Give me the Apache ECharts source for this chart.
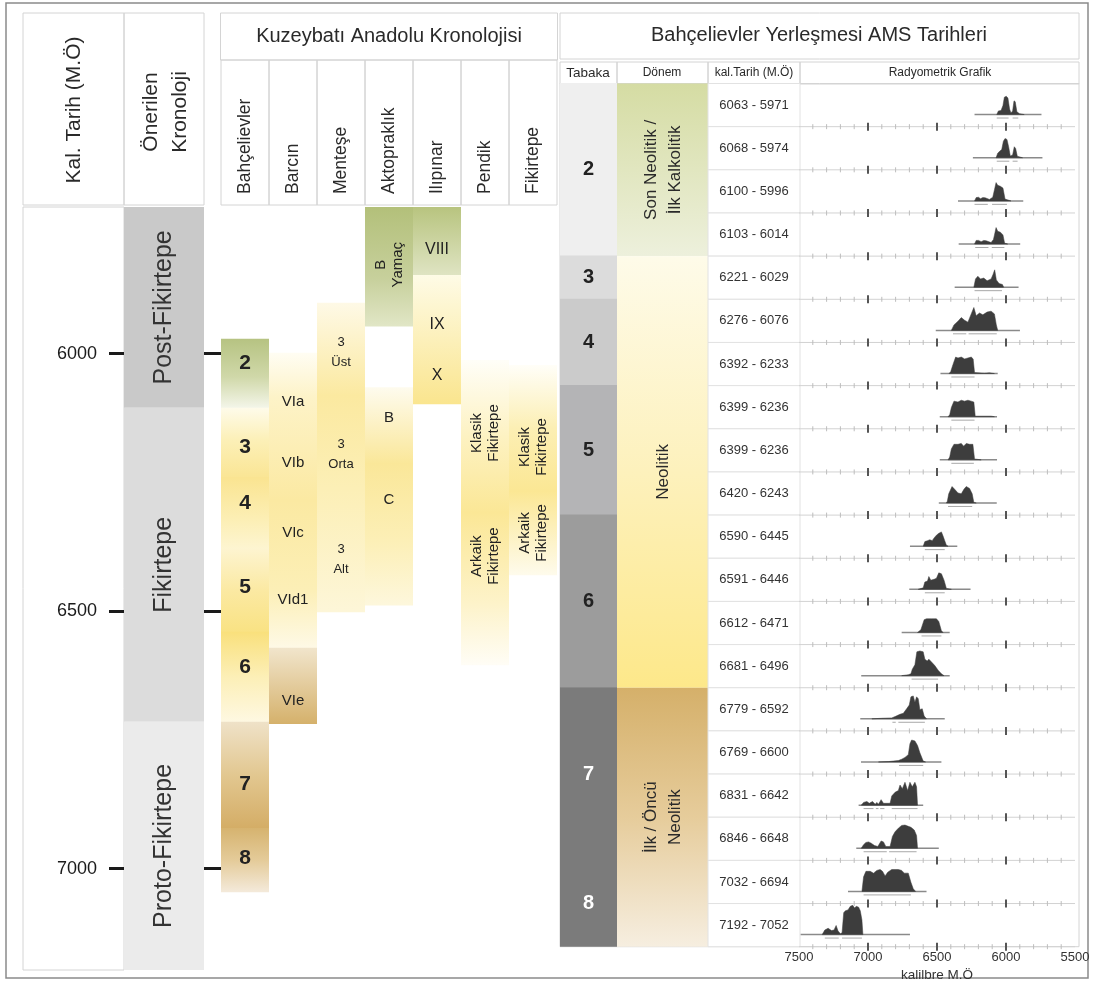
<!DOCTYPE html>
<html><head><meta charset="utf-8">
<script src="https://cdn.jsdelivr.net/npm/echarts@6/dist/echarts.min.js"></script>
<style>html,body{margin:0;padding:0;background:#fff}#c{width:1093px;height:981px}</style>
</head><body><div id="c"></div>
<script>
// ================= DATA =================
const yearTicks = [6000, 6500, 7000];

const proposedPhases = ['Post-Fikirtepe', 'Fikirtepe', 'Proto-Fikirtepe'];
const proposedStart = [5715, 6105, 6715];
const proposedEnd = [6105, 6715, 7197];

const siteNames = ['Bahçelievler', 'Barcın', 'Menteşe', 'Aktopraklık', 'Ilıpınar', 'Pendik', 'Fikirtepe'];
const siteBlockSite  = [0, 0, 0, 0, 0, 0, 0, 1, 1, 2, 3, 3, 4, 4, 5, 6];
const siteBlockStart = [5971, 6105, 6240, 6380, 6540, 6715, 6921, 5998, 6571, 5901, 5715, 6065, 5715, 5847, 6012, 6022];
const siteBlockEnd   = [6105, 6240, 6380, 6540, 6715, 6921, 7045, 6571, 6718, 6501, 5946, 6488, 5847, 6097, 6604, 6429];
const siteBlockTone  = ['g2', 'y3', 'y4', 'y5', 'y6', 'b7', 'b8', 'yBar', 'bBar', 'yMen', 'gAkt', 'yAkt', 'gIli', 'yIli', 'yPen', 'yFik'];

const siteLabelSite = [0, 0, 0, 0, 0, 0, 0, 1, 1, 1, 1, 1, 2, 2, 2, 3, 3, 3, 4, 4, 4, 5, 5, 6, 6];
const siteLabelYear = [6018, 6181, 6290, 6453, 6608, 6837, 6979, 6094, 6212, 6348, 6478, 6674, 5998, 6196, 6400, 5827, 6125, 6284, 5798, 5944, 6043, 6154, 6393, 6181, 6348];
const siteLabelText = ['2', '3', '4', '5', '6', '7', '8', 'VIa', 'VIb', 'VIc', 'VId1', 'VIe', '3\nÜst', '3\nOrta', '3\nAlt', 'B\nYamaç', 'B', 'C', 'VIII', 'IX', 'X', 'Klasik\nFikirtepe', 'Arkaik\nFikirtepe', 'Klasik\nFikirtepe', 'Arkaik\nFikirtepe'];

const tabakaNames = ['2', '3', '4', '5', '6', '7', '8'];
const tabakaStartRow = [0, 4, 5, 7, 10, 14, 18];
const tabakaEndRow = [4, 5, 7, 10, 14, 18, 20];

const donemNames = ['Son Neolitik /\nİlk Kalkolitik', 'Neolitik', 'İlk / Öncü\nNeolitik'];
const donemStartRow = [0, 4, 14];
const donemEndRow = [4, 14, 20];

const amsLabels = ['6063 - 5971', '6068 - 5974', '6100 - 5996', '6103 - 6014', '6221 - 6029', '6276 - 6076', '6392 - 6233', '6399 - 6236', '6399 - 6236', '6420 - 6243', '6590 - 6445', '6591 - 6446', '6612 - 6471', '6681 - 6496', '6779 - 6592', '6769 - 6600', '6831 - 6642', '6846 - 6648', '7032 - 6694', '7192 - 7052'];

const amsExtent = [[6228, 5743], [6240, 5736], [6348, 5875], [6343, 5897], [6372, 5909], [6509, 5899], [6475, 6060], [6480, 6065], [6480, 6065], [6487, 6067], [6696, 6353], [6701, 6257], [6756, 6408], [7049, 6408], [7056, 6444], [7051, 6468], [7068, 6600], [7085, 6487], [7145, 6576], [7488, 6696]];

const amsDensity = [
  [[6067,0],[6055,0.2],[6036,0.22],[6022,0.5],[6012,0.95],[5998,1.0],[5986,0.9],[5974,0.3],[5964,0.08],[5952,0.2],[5942,0.75],[5933,0.7],[5921,0.15],[5902,0.05],[5868,0]],
  [[6072,0],[6060,0.25],[6046,0.35],[6031,0.45],[6019,0.9],[6007,1.05],[5993,1.0],[5981,0.6],[5969,0.1],[5952,0.15],[5940,0.6],[5930,0.5],[5918,0.08],[5880,0]],
  [[6228,0],[6216,0.18],[6199,0.2],[6185,0.12],[6168,0.18],[6151,0.17],[6120,0.08],[6096,0.2],[6084,0.6],[6072,1.0],[6060,0.85],[6041,0.8],[6022,0.7],[6007,0.1],[5964,0]],
  [[6228,0],[6216,0.2],[6199,0.2],[6180,0.13],[6161,0.2],[6144,0.18],[6108,0.08],[6091,0.25],[6082,0.55],[6072,0.9],[6060,0.7],[6041,0.65],[6022,0.5],[6010,0.05],[5988,0]],
  [[6233,0],[6221,0.45],[6204,0.6],[6185,0.45],[6161,0.5],[6137,0.35],[6108,0.45],[6094,0.7],[6082,0.95],[6070,0.4],[6050,0.2],[6026,0.15],[6017,0]],
  [[6396,0],[6377,0.3],[6348,0.5],[6324,0.7],[6300,0.55],[6276,0.45],[6252,0.9],[6233,1.25],[6216,0.8],[6192,0.95],[6168,0.85],[6137,1.0],[6108,1.05],[6084,0.9],[6070,0.3],[6060,0]],
  [[6413,0],[6401,0.1],[6384,0.5],[6365,0.9],[6348,0.85],[6324,0.9],[6300,0.8],[6276,0.85],[6252,0.9],[6238,0.8],[6228,0.05],[6156,0.02],[6120,0.04],[6084,0]],
  [[6420,0],[6408,0.1],[6396,0.5],[6377,0.85],[6348,0.8],[6324,0.9],[6300,0.85],[6276,0.9],[6252,0.85],[6233,0.8],[6223,0.03],[6108,0.03],[6084,0]],
  [[6420,0],[6408,0.15],[6396,0.6],[6377,0.85],[6348,0.85],[6324,0.9],[6307,0.75],[6288,0.9],[6264,0.85],[6240,0.85],[6228,0.05],[6180,0]],
  [[6432,0],[6425,0.1],[6415,0.5],[6391,0.9],[6372,0.75],[6348,0.55],[6324,0.5],[6305,0.75],[6288,0.9],[6264,0.8],[6245,0.5],[6233,0.03],[6216,0]],
  [[6600,0],[6588,0.25],[6569,0.3],[6552,0.35],[6535,0.3],[6521,0.45],[6504,0.6],[6487,0.7],[6468,0.78],[6456,0.55],[6444,0.3],[6432,0.05],[6420,0]],
  [[6636,0],[6600,0.08],[6588,0.4],[6569,0.45],[6559,0.7],[6545,0.5],[6521,0.55],[6504,0.6],[6487,0.9],[6468,0.85],[6449,0.5],[6432,0.05],[6396,0]],
  [[6641,0],[6617,0.15],[6593,0.7],[6576,0.75],[6540,0.75],[6504,0.75],[6487,0.6],[6468,0.1],[6456,0]],
  [[6756,0],[6708,0.05],[6689,0.1],[6679,0.35],[6660,0.6],[6646,1.3],[6624,1.35],[6600,1.3],[6588,0.9],[6571,0.8],[6559,0.9],[6540,0.75],[6516,0.55],[6492,0.3],[6468,0.1],[6449,0]],
  [[6972,0],[6900,0.03],[6828,0.05],[6804,0.12],[6768,0.25],[6744,0.3],[6720,0.55],[6701,0.75],[6689,1.2],[6672,1.25],[6660,0.9],[6648,1.2],[6636,1.1],[6624,0.5],[6607,0.55],[6593,0.15],[6576,0]],
  [[6924,0],[6852,0.02],[6780,0.08],[6756,0.15],[6732,0.25],[6708,0.4],[6696,1.0],[6684,1.2],[6660,1.15],[6641,0.9],[6624,0.5],[6600,0.05],[6583,0]],
  [[7049,0],[7032,0.15],[7008,0.2],[6991,0.1],[6967,0.2],[6948,0.05],[6936,0.15],[6924,0.05],[6905,0.3],[6888,0.1],[6840,0.1],[6828,0.5],[6804,0.7],[6780,0.8],[6768,1.1],[6751,0.9],[6732,1.25],[6713,0.8],[6696,1.25],[6679,1.0],[6660,1.25],[6648,1.0],[6641,0]],
  [[7049,0],[7032,0.2],[7015,0.32],[6996,0.35],[6977,0.28],[6953,0.15],[6929,0.1],[6905,0.4],[6888,0.35],[6871,0.1],[6840,0.1],[6823,0.65],[6804,0.9],[6780,1.1],[6756,1.25],[6732,1.27],[6708,1.2],[6689,1.15],[6665,1.0],[6648,0.7],[6641,0]],
  [[7044,0],[7032,0.8],[7015,1.1],[6984,1.1],[6960,1.0],[6936,1.15],[6912,1.2],[6895,1.1],[6876,0.85],[6857,1.05],[6828,1.2],[6804,1.2],[6780,1.2],[6756,1.15],[6737,1.0],[6708,1.0],[6689,0.5],[6672,0.15],[6655,0]],
  [[7332,0],[7313,0.25],[7289,0.35],[7265,0.22],[7246,0.25],[7231,0.5],[7217,0.2],[7200,0.05],[7188,0.1],[7176,1.2],[7164,1.3],[7145,1.35],[7128,1.55],[7111,1.6],[7097,1.45],[7085,1.55],[7068,1.5],[7056,1.3],[7044,0.8],[7037,0]]
];

const amsBars = [
  [[6067,5981],[5952,5911]], [[6067,5976],[5952,5916]], [[6228,6132],[6101,5993]], [[6223,6127],[6103,6012]],
  [[6228,6029]], [[6384,6288],[6271,6067]], [[6396,6228]], [[6396,6228]], [[6396,6233]], [[6420,6245]],
  [[6588,6444]], [[6588,6444]], [[6612,6468]], [[6684,6492]], [[6823,6799],[6780,6588]], [[6775,6600]],
  [[7032,6960],[6943,6924],[6912,6881],[6828,6641]], [[7032,6864],[6847,6648]], [[7032,6689]], [[7313,7212],[7188,7044]]
];

const minorTickYears = [7400, 7300, 7200, 7100, 6900, 6800, 6700, 6600, 6400, 6300, 6200, 6100, 5900, 5800, 5700, 5600];
const majorTickYears = [7000, 6500, 6000];

// ================= STYLE =================
const FONT = "'Liberation Sans', Arial, sans-serif";
const NARROW = "'Liberation Sans Narrow', 'Liberation Sans', Arial, sans-serif";
const G = echarts.graphic;
const tones = {
  g2:   [[0,'#b6c382'],[0.55,'#d0d8a9'],[1,'#f4f6ea']],
  y3:   [[0,'#fefbea'],[0.45,'#fcf0b8'],[1,'#fae594']],
  y4:   [[0,'#fae491'],[0.6,'#fcefb6'],[1,'#fdf5d2']],
  y5:   [[0,'#fdf4cf'],[0.5,'#fbe9a2'],[1,'#f9e283']],
  y6:   [[0,'#f9e07c'],[0.5,'#fcefb7'],[1,'#fef8e2']],
  b7:   [[0,'#efe2c8'],[0.5,'#e2c790'],[1,'#d4ad66']],
  b8:   [[0,'#d6b36f'],[0.5,'#e4cb99'],[1,'#f4eadb']],
  yBar: [[0,'#fffdf3'],[0.15,'#fdf3c8'],[0.5,'#fbe9a2'],[0.8,'#fcefb6'],[1,'#fef9e6']],
  bBar: [[0,'#f1e5cc'],[1,'#d5b16b']],
  yMen: [[0,'#fef9e6'],[0.3,'#fbe9a0'],[0.6,'#fcefb6'],[1,'#fdf6d8']],
  gAkt: [[0,'#b3c07a'],[0.6,'#c7d09c'],[1,'#e1e6c6']],
  yAkt: [[0,'#fefbee'],[0.35,'#fae799'],[0.7,'#fcefb6'],[1,'#fdf7dc']],
  gIli: [[0,'#b8c47f'],[1,'#dfe4c3']],
  yIli: [[0,'#fefbe6'],[1,'#fae58e']],
  yPen: [[0,'#fffef8'],[0.25,'#fdf2c2'],[0.5,'#fbe796'],[0.8,'#fdf3ca'],[1,'#fffdf6']],
  yFik: [[0,'#fffef8'],[0.3,'#fcefb4'],[0.6,'#fbe794'],[1,'#fefbec']],
  dG:   [[0,'#d5dca3'],[1,'#edf0dc']],
  dY:   [[0,'#fefbe9'],[0.5,'#fdf1bc'],[1,'#fde88a']],
  dB:   [[0,'#d5b06a'],[0.5,'#e6cc9b'],[1,'#f6eee0']]
};
function grad(k) { return new G.LinearGradient(0, 0, 0, 1, tones[k].map(s => ({offset: s[0], color: s[1]}))); }
const proposedColors = ['#c9c9c9', '#dcdcdc', '#ebebeb'];
const tabakaColors = ['#efefef', '#dcdcdc', '#cbcbcb', '#b4b4b6', '#9c9c9c', '#7b7b7b', '#7b7b7b'];
const donemTones = ['dG', 'dY', 'dB'];
const BASE = 0.72, AMP = 0.424, BARY = 0.8;

function labelStyle(site, text) {
  if (site === 0) return {font: 'bold 21px ' + NARROW, rot: false, lh: 22};
  if (site === 2) return {font: '13px ' + NARROW, rot: false, lh: 20};
  if (site === 4) return {font: '16px ' + FONT, rot: false, lh: 18};
  return {font: '15px ' + FONT, rot: text.indexOf('\n') >= 0, lh: 17};
}

// ================= CHART =================
const chart = echarts.init(document.getElementById('c'));
const hidX = (gi) => ({gridIndex: gi, type: 'value', min: 0, max: 1, show: false});
const hidRowY = (gi) => ({gridIndex: gi, type: 'value', min: 0, max: 20, inverse: true, show: false});

const headerRects = [
  [23, 13, 101, 192], [23, 207, 101, 763], [124, 13, 80, 192], [220.5, 13, 337, 47],
  [560, 13, 519, 46], [560, 62, 57, 22], [617, 62, 91, 22], [708, 62, 92, 22], [800, 62, 279, 22], [560, 83.5, 519, 863.2]
];
const graphics = [];
graphics.push({type: 'rect', shape: {x: 6, y: 3, width: 1082, height: 975}, style: {fill: 'none', stroke: '#8a8a8a', lineWidth: 1.5}, silent: true});
headerRects.forEach(r => graphics.push({type: 'rect', shape: {x: r[0], y: r[1], width: r[2], height: r[3]}, style: {fill: 'none', stroke: '#d4d4d4', lineWidth: 1}, silent: true}));
const txt = (t, x, y, font, rot, lh, align) => ({type: 'text', x: x, y: y, rotation: rot ? Math.PI / 2 : 0, silent: true,
  style: {text: t, font: font, fill: '#2a2a2a', align: align || 'center', verticalAlign: 'middle', lineHeight: lh || 20}});
siteNames.forEach((n, i) => {
  graphics.push({type: 'rect', shape: {x: 221 + 48 * i, y: 60, width: 48, height: 145}, style: {fill: 'none', stroke: '#d4d4d4', lineWidth: 1}, silent: true});
  graphics.push(txt(n, 221 + 48 * i + 24, 194, '17.5px ' + FONT, true, 18, 'left'));
});
graphics.push(txt('Kal. Tarih (M.Ö)', 74, 110, '21px ' + FONT, true));
graphics.push(txt('Önerilen\nKronoloji', 166, 112, '21px ' + FONT, true, 29));
graphics.push(txt('Kuzeybatı Anadolu Kronolojisi', 389, 36, '20px ' + FONT, false));
graphics.push(txt('Bahçelievler Yerleşmesi AMS Tarihleri', 819, 35, '20px ' + FONT, false));
graphics.push(txt('Tabaka', 588, 73, '13.5px ' + FONT, false));
graphics.push(txt('Dönem', 662, 73, '12px ' + FONT, false));
graphics.push(txt('kal.Tarih (M.Ö)', 754, 73, '12px ' + NARROW, false));
graphics.push(txt('Radyometrik Grafik', 940, 73, '12px ' + FONT, false));

const plain = v => String(v);
const gridBox = (l, t, w, h) => ({left: l, top: t, width: w, height: h, outerBoundsMode: 'none', containLabel: false});

const option = {
  animation: false,
  backgroundColor: '#fff',
  grid: [
    gridBox(124, 207, 80, 763),
    gridBox(221, 207, 336, 763),
    gridBox(560, 83.5, 57, 863.2),
    gridBox(617, 83.5, 91, 863.2),
    gridBox(708, 83.5, 92, 863.2),
    gridBox(799, 83.5, 276, 863.2)
  ],
  xAxis: [
    hidX(0),
    {gridIndex: 1, type: 'category', data: siteNames, position: 'top', axisLine: {show: false}, axisTick: {show: false}, axisLabel: {show: false}},
    hidX(2), hidX(3), hidX(4),
    {gridIndex: 5, type: 'value', min: 5500, max: 7500, interval: 500, inverse: true,
      axisLine: {show: false}, axisTick: {show: false}, splitLine: {show: false},
      axisLabel: {fontSize: 13, color: '#333', margin: 4, fontFamily: FONT, formatter: plain},
      name: 'kalilbre M.Ö', nameLocation: 'middle', nameGap: 15, nameTextStyle: {fontSize: 13.5, color: '#333', fontFamily: FONT}}
  ],
  yAxis: [
    {gridIndex: 0, type: 'value', min: 5715, max: 7197, inverse: true, axisLine: {show: false}, splitLine: {show: false},
      axisTick: {show: true, customValues: yearTicks, length: 15, lineStyle: {color: '#1a1a1a', width: 3}},
      axisLabel: {customValues: yearTicks, fontSize: 18, margin: 27, color: '#1a1a1a', fontFamily: FONT, formatter: plain}},
    {gridIndex: 1, type: 'value', min: 5715, max: 7197, inverse: true, axisLine: {show: false}, splitLine: {show: false},
      axisTick: {show: true, customValues: yearTicks, length: 18, lineStyle: {color: '#1a1a1a', width: 3}},
      axisLabel: {show: false}},
    hidRowY(2), hidRowY(3), hidRowY(4), hidRowY(5)
  ],
  graphic: graphics,
  series: [
    { // proposed chronology
      type: 'custom', xAxisIndex: 0, yAxisIndex: 0, silent: true,
      data: proposedPhases.map((_, i) => [0, proposedStart[i]]),
      renderItem: (params, api) => {
        const i = params.dataIndex;
        const a = api.coord([0, proposedStart[i]]), b = api.coord([1, proposedEnd[i]]);
        return {type: 'group', children: [
          {type: 'rect', shape: {x: a[0], y: a[1], width: b[0] - a[0], height: b[1] - a[1]}, style: {fill: proposedColors[i]}},
          {type: 'text', x: (a[0] + b[0]) / 2, y: (a[1] + b[1]) / 2, rotation: Math.PI / 2,
            style: {text: proposedPhases[i], font: '25px ' + FONT, fill: '#333', align: 'center', verticalAlign: 'middle'}}
        ]};
      }
    },
    { // site blocks
      type: 'custom', xAxisIndex: 1, yAxisIndex: 1, silent: true,
      data: siteBlockSite.map((s, i) => [s, siteBlockStart[i], siteBlockEnd[i]]),
      renderItem: (params, api) => {
        const i = params.dataIndex, s = siteBlockSite[i];
        const a = api.coord([s, siteBlockStart[i]]), b = api.coord([s, siteBlockEnd[i]]);
        const w = api.size([1, 0])[0];
        return {type: 'rect', shape: {x: a[0] - w / 2, y: a[1], width: w, height: b[1] - a[1] + 0.6}, style: {fill: grad(siteBlockTone[i])}};
      }
    },
    { // site labels
      type: 'custom', xAxisIndex: 1, yAxisIndex: 1, silent: true, z: 5,
      data: siteLabelSite.map((s, i) => [s, siteLabelYear[i]]),
      renderItem: (params, api) => {
        const i = params.dataIndex, s = siteLabelSite[i];
        const p = api.coord([s, siteLabelYear[i]]);
        const st = labelStyle(s, siteLabelText[i]);
        return {type: 'text', x: p[0], y: p[1], rotation: st.rot ? Math.PI / 2 : 0,
          style: {text: siteLabelText[i], font: st.font, fill: '#222', align: 'center', verticalAlign: 'middle', lineHeight: st.lh}};
      }
    },
    { // tabaka
      type: 'custom', xAxisIndex: 2, yAxisIndex: 2, silent: true,
      data: tabakaNames.map((_, i) => [0, tabakaStartRow[i]]),
      renderItem: (params, api) => {
        const i = params.dataIndex;
        const a = api.coord([0, tabakaStartRow[i]]), b = api.coord([1, tabakaEndRow[i]]);
        return {type: 'group', children: [
          {type: 'rect', shape: {x: a[0], y: a[1] - 0.6, width: b[0] - a[0], height: b[1] - a[1] + 0.6}, style: {fill: tabakaColors[i]}},
          {type: 'text', x: (a[0] + b[0]) / 2, y: (a[1] + b[1]) / 2, z2: 10,
            style: {text: tabakaNames[i], font: 'bold 20px ' + FONT, fill: i >= 5 ? '#fff' : '#222', align: 'center', verticalAlign: 'middle'}}
        ]};
      }
    },
    { // donem
      type: 'custom', xAxisIndex: 3, yAxisIndex: 3, silent: true,
      data: donemNames.map((_, i) => [0, donemStartRow[i]]),
      renderItem: (params, api) => {
        const i = params.dataIndex;
        const a = api.coord([0, donemStartRow[i]]), b = api.coord([1, donemEndRow[i]]);
        return {type: 'group', children: [
          {type: 'rect', shape: {x: a[0], y: a[1], width: b[0] - a[0], height: b[1] - a[1]}, style: {fill: grad(donemTones[i])}},
          {type: 'text', x: (a[0] + b[0]) / 2 + 1, y: (a[1] + b[1]) / 2, rotation: Math.PI / 2,
            style: {text: donemNames[i], font: '17px ' + FONT, fill: '#2a2a2a', align: 'center', verticalAlign: 'middle', lineHeight: 24}}
        ]};
      }
    },
    { // kal. tarih
      type: 'custom', xAxisIndex: 4, yAxisIndex: 4, silent: true,
      data: amsLabels.map((_, i) => [0, i]),
      renderItem: (params, api) => {
        const i = params.dataIndex;
        const a = api.coord([0, i]), b = api.coord([1, i + 1]);
        return {type: 'group', children: [
          {type: 'rect', shape: {x: a[0], y: a[1], width: b[0] - a[0], height: b[1] - a[1]}, style: {fill: '#fff', stroke: '#e2e2e2', lineWidth: 1}},
          {type: 'text', x: (a[0] + b[0]) / 2, y: (a[1] + b[1]) / 2,
            style: {text: amsLabels[i], font: '13px ' + FONT, fill: '#333', align: 'center', verticalAlign: 'middle'}}
        ]};
      }
    },
    { // row separators with year ticks
      type: 'custom', xAxisIndex: 5, yAxisIndex: 5, silent: true,
      data: amsLabels.map((_, i) => [7500, i + 1]),
      renderItem: (params, api) => {
        const r = params.dataIndex + 1;
        const a = api.coord([7500, r]), b = api.coord([5500, r]);
        const ch = [{type: 'line', shape: {x1: a[0], y1: a[1], x2: b[0], y2: b[1]}, style: {stroke: '#d2d2d2', lineWidth: 1}}];
        minorTickYears.forEach(yr => {
          const p = api.coord([yr, r]);
          ch.push({type: 'line', shape: {x1: p[0], y1: p[1] - 2.5, x2: p[0], y2: p[1] + 2.5}, style: {stroke: '#bdbdbd', lineWidth: 1}});
        });
        majorTickYears.forEach(yr => {
          const p = api.coord([yr, r]);
          ch.push({type: 'line', shape: {x1: p[0], y1: p[1] - 4, x2: p[0], y2: p[1] + 4}, style: {stroke: '#555', lineWidth: 2}});
        });
        return {type: 'group', children: ch};
      }
    },
    { // calibrated distributions
      type: 'custom', xAxisIndex: 5, yAxisIndex: 5, silent: true, z: 4,
      data: amsLabels.map((_, i) => [amsExtent[i][0], i]),
      renderItem: (params, api) => {
        const i = params.dataIndex;
        const e = amsExtent[i];
        const pa = api.coord([e[0], i + BASE]), pb = api.coord([e[1], i + BASE]);
        const ch = [{type: 'line', shape: {x1: pa[0], y1: pa[1], x2: pb[0], y2: pb[1]}, style: {stroke: '#8a8a8a', lineWidth: 1.5}}];
        const pts = amsDensity[i].map(d => api.coord([d[0], i + BASE - d[1] * AMP]));
        ch.push({type: 'polygon', shape: {points: pts}, style: {fill: '#3d3d3d', stroke: '#3d3d3d', lineWidth: 0.5}});
        amsBars[i].forEach(bar => {
          const p = api.coord([bar[0], i + BARY]), q = api.coord([bar[1], i + BARY]);
          ch.push({type: 'line', shape: {x1: p[0], y1: p[1], x2: q[0], y2: q[1]}, style: {stroke: '#a8a8a8', lineWidth: 1}});
        });
        return {type: 'group', children: ch};
      }
    }
  ]
};
chart.setOption(option);
</script>
</body></html>
